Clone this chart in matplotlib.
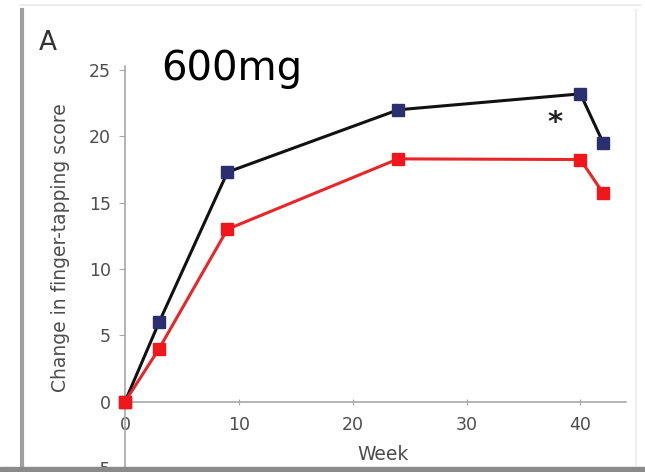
import matplotlib.pyplot as plt
from matplotlib.lines import Line2D
from matplotlib.patches import Rectangle

# data
weeks = [0, 3, 9, 24, 40, 42]
score_black = [0, 6.0, 17.3, 22.0, 23.2, 19.5]
score_red = [0, 4.0, 13.0, 18.3, 18.25, 15.7]
yticks = [-5, 0, 5, 10, 15, 20, 25]
xticks = [0, 10, 20, 30, 40]

plt.rcParams['font.family'] = ['DejaVu Sans']

fig = plt.figure(figsize=(6.45, 4.72), dpi=100)
W, H = 645, 472
ax = fig.add_axes([125 / W, 1 - 468 / H, (626 - 125) / W, (468 - 66) / H])

ax.plot(weeks, score_black, color='#111111', lw=2.2, marker='s', ms=8,
        mfc='#2b2f70', mec='#2b2f70', clip_on=False, zorder=3)
ax.plot(weeks, score_red, color='#e8262a', lw=2.2, marker='s', ms=8,
        mfc='#f0161c', mec='#f0161c', clip_on=False, zorder=4)

ax.set_xlim(0, 44)
ax.set_ylim(-5, 25.3)
ax.set_xticks(xticks)
ax.set_yticks(yticks)

for s in ['top', 'right']:
    ax.spines[s].set_visible(False)
ax.spines['bottom'].set_position(('data', 0))
ax.spines['bottom'].set_color('#a8a8a8')
ax.spines['left'].set_color('#a8a8a8')
ax.spines['bottom'].set_linewidth(1.2)
ax.spines['left'].set_linewidth(1.2)

ax.tick_params(axis='y', direction='out', length=4, color='#a8a8a8',
               labelsize=12.5, labelcolor='#4d4d4d', pad=6)
ax.tick_params(axis='x', direction='inout', length=5, color='#a8a8a8',
               labelsize=12.5, labelcolor='#4d4d4d', pad=8)

ax.text(22.7, -4.0, 'Week', fontsize=13.5, color='#4d4d4d', ha='center', va='center',
        clip_on=False)
ax.text(-5.7, 11.6, 'Change in finger-tapping score', fontsize=13.5, color='#4d4d4d',
        rotation=90, ha='center', va='center', clip_on=False)
ax.text(9.4, 25.1, '600mg', fontsize=29, color='black', ha='center', va='center',
        clip_on=False)
ax.text(37.8, 21.0, '*', fontsize=21, fontweight='bold', color='#222222',
        ha='center', va='center')

fig.text(48 / W, 1 - 43 / H, 'A', fontsize=19, color='#333333', ha='center', va='center')

# screenshot frame
fig.add_artist(Line2D([22 / W, 22 / W], [0, 1 - 10 / H], transform=fig.transFigure,
                      color='#a0a0a0', lw=3))
fig.add_artist(Line2D([20 / W, 640 / W], [1 - 5 / H, 1 - 5 / H], transform=fig.transFigure,
                      color='#ececec', lw=1.5))
fig.add_artist(Line2D([636 / W, 636 / W], [0, 1 - 10 / H], transform=fig.transFigure,
                      color='#f0f0f0', lw=1.5))
fig.add_artist(Rectangle((0, 0), 1, 5 / H, transform=fig.transFigure,
                         color='#8a8a8a', zorder=10))

fig.savefig('out.png', dpi=100)
